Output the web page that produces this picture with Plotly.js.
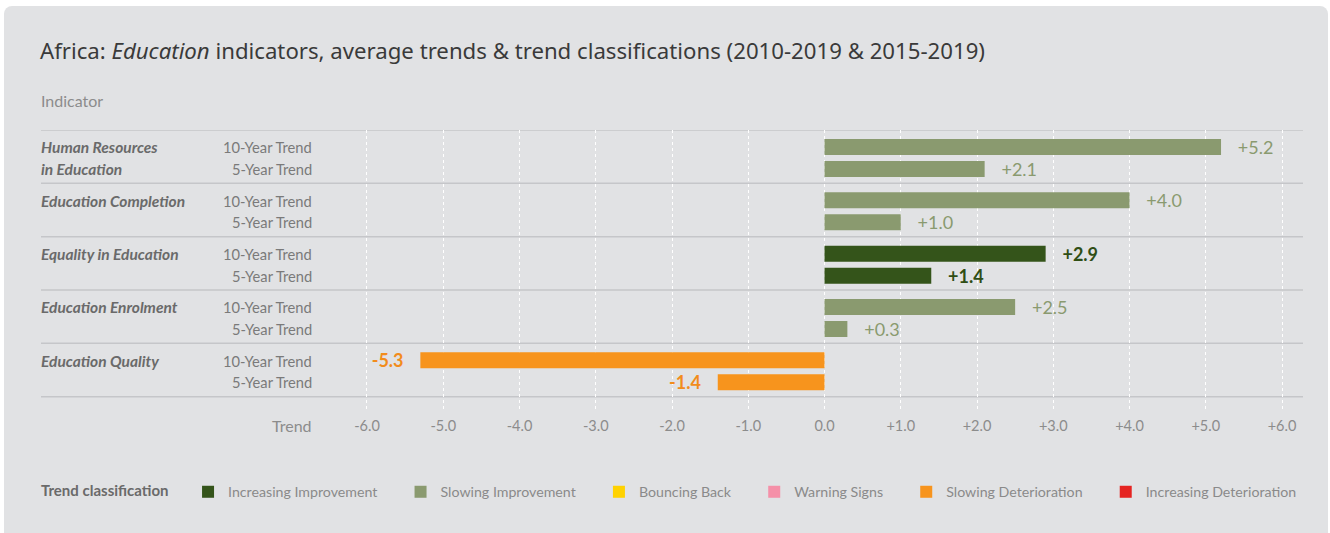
<!DOCTYPE html>
<html>
<head>
<meta charset="utf-8">
<script src="https://cdn.plot.ly/plotly-3.0.1.min.js"></script>
<style>
  html, body { margin:0; padding:0; background:#ffffff; width:1330px; height:533px; overflow:hidden; }
  #card { position:absolute; left:4px; top:6px; width:1324px; height:540px; background:#e1e2e4; border-radius:8px; }
  #chart { position:absolute; left:0; top:0; width:1330px; height:533px; }
</style>
</head>
<body>
<div id="card"></div>
<div id="chart"></div>
<script>
// ---- data ----
const indicators = ["Human Resources in Education", "Education Completion", "Equality in Education", "Education Enrolment", "Education Quality"];
const indicatorLines = [["Human Resources", "in Education"], ["Education Completion"], ["Equality in Education"], ["Education Enrolment"], ["Education Quality"]];
const periods = ["10-Year Trend", "5-Year Trend"];
const trend10 = [5.2, 4.0, 2.9, 2.5, -5.3];
const trend5 = [2.1, 1.0, 1.4, 0.3, -1.4];
const class10 = ["Slowing Improvement", "Slowing Improvement", "Increasing Improvement", "Slowing Improvement", "Slowing Deterioration"];
const class5 = ["Slowing Improvement", "Slowing Improvement", "Increasing Improvement", "Slowing Improvement", "Slowing Deterioration"];
const classNames = ["Increasing Improvement", "Slowing Improvement", "Bouncing Back", "Warning Signs", "Slowing Deterioration", "Increasing Deterioration"];
const classColors = ["#34541a", "#8a9a6f", "#ffd200", "#f590a8", "#f7941d", "#e52421"];
const classTextColors = ["#2f4e14", "#8a9a6f", "#e6bd00", "#f590a8", "#f28c1c", "#e52421"];
const classBold = [true, false, false, false, true, true];
const tickVals = [-6, -5, -4, -3, -2, -1, 0, 1, 2, 3, 4, 5, 6];
const tickText = ["-6.0", "-5.0", "-4.0", "-3.0", "-2.0", "-1.0", "0.0", "+1.0", "+2.0", "+3.0", "+4.0", "+5.0", "+6.0"];

// ---- helpers ----
const idx = c => classNames.indexOf(c);
const fmt = v => (v > 0 ? "+" : "") + v.toFixed(1);
const nb = n => "\u00a0".repeat(n);
function labels(vals, cls) {
  return vals.map((v, i) => {
    let t = fmt(v);
    if (classBold[idx(cls[i])]) t = "<b>" + t + "</b>";
    return v >= 0 ? nb(3) + t : t + nb(3);
  });
}
const FONT = "Lato, 'Open Sans', sans-serif";

const barStyle = [
  { offset: -0.331, width: 0.30 },
  { offset: 0.081, width: 0.30 }
];
const rowShift = [9.2, -12.3];

function barTrace(vals, cls, k) {
  return {
    type: "bar", orientation: "h",
    y: indicators, x: vals,
    offset: barStyle[k].offset, width: barStyle[k].width,
    marker: { color: cls.map(c => classColors[idx(c)]) },
    text: labels(vals, cls),
    textposition: "outside",
    textfont: { family: FONT, size: 18, color: cls.map(c => classTextColors[idx(c)]) },
    constraintext: "none",
    cliponaxis: false,
    hoverinfo: "skip",
    showlegend: false
  };
}

const traces = [barTrace(trend10, class10, 0), barTrace(trend5, class5, 1)];
classNames.forEach((n, i) => {
  traces.push({
    type: "scatter", mode: "markers", x: [null], y: [null],
    name: n + (i < classNames.length - 1 ? nb(5) : ""), showlegend: true,
    marker: { symbol: "square", size: 12, color: classColors[i] }
  });
});

const annotations = [];
annotations.push({
  text: "Indicator", xref: "paper", yref: "paper", x: 0, xshift: -2, y: 1, yshift: 30, xanchor: "left", yanchor: "middle",
  showarrow: false, font: { family: FONT, size: 16, color: "#8c8c8c" }
});
annotations.push({
  text: "Trend", xref: "paper", yref: "paper", x: 0.2155, xshift: 1, y: 0, yshift: -15, xanchor: "right", yanchor: "middle",
  showarrow: false, font: { family: FONT, size: 16, color: "#8c8c8c" }
});
indicators.forEach((ind, i) => {
  indicatorLines[i].forEach((line, j) => {
    annotations.push({
      text: "<i><b>" + line + "</b></i>", xref: "paper", yref: "y", x: 0, xshift: -2, y: ind, yshift: rowShift[j],
      xanchor: "left", yanchor: "middle", showarrow: false,
      font: { family: FONT, size: 15.5, color: "#6a6a6a" }
    });
  });
  periods.forEach((p, k) => {
    annotations.push({
      text: p, xref: "paper", yref: "y", x: 0.2155, xshift: 1, y: ind, yshift: rowShift[k],
      xanchor: "right", yanchor: "middle", showarrow: false,
      font: { family: FONT, size: 14.7, color: "#7a7a7a" }
    });
  });
});

const shapes = [];
for (let i = 0; i <= indicators.length; i++) {
  shapes.push({
    type: "line", xref: "paper", yref: "y", x0: 0, x1: 1, y0: i - 0.5, y1: i - 0.5,
    line: { color: "#c5c6c9", width: 1.5 }, layer: "below"
  });
}

const layout = {
  width: 1330, height: 533,
  paper_bgcolor: "rgba(0,0,0,0)", plot_bgcolor: "rgba(0,0,0,0)",
  margin: { l: 41, r: 27, t: 130, b: 123 },
  title: {
    text: "Africa: <i>Education</i> indicators, average trends & trend classifications (2010-2019 & 2015-2019)",
    xref: "container", yref: "container", x: 40 / 1330, xanchor: "left", y: 1 - 51 / 533, yanchor: "middle",
    font: { family: "'Noto Sans', sans-serif", size: 22.2, color: "#3a3a3a" }
  },
  barmode: "overlay",
  xaxis: {
    range: [-10.275, 6.275], tickvals: tickVals, ticktext: tickText,
    showgrid: true, gridcolor: "#ffffff", griddash: "dot", gridwidth: 1,
    zeroline: false, showline: false, ticks: "",
    tickfont: { family: FONT, size: 14.5, color: "#8c8c8c" },
    ticklabelstandoff: 5, fixedrange: true
  },
  yaxis: {
    type: "category", categoryarray: indicators, range: [4.75, -0.5],
    showticklabels: false, showgrid: false, zeroline: false, showline: false, ticks: "", fixedrange: true
  },
  legend: {
    orientation: "h", x: -0.0016, xanchor: "left", y: -0.293, yanchor: "middle",
    bgcolor: "rgba(0,0,0,0)",
    title: { text: "<b>Trend classification</b>" + nb(3), side: "left", font: { family: FONT, size: 15, color: "#6a6a6a" } },
    font: { family: FONT, size: 14.2, color: "#8a8a8a" },
    itemclick: false, itemdoubleclick: false
  },
  annotations: annotations,
  shapes: shapes,
  hovermode: false
};

Plotly.newPlot("chart", traces, layout, { displayModeBar: false, staticPlot: true });
</script>
</body>
</html>
